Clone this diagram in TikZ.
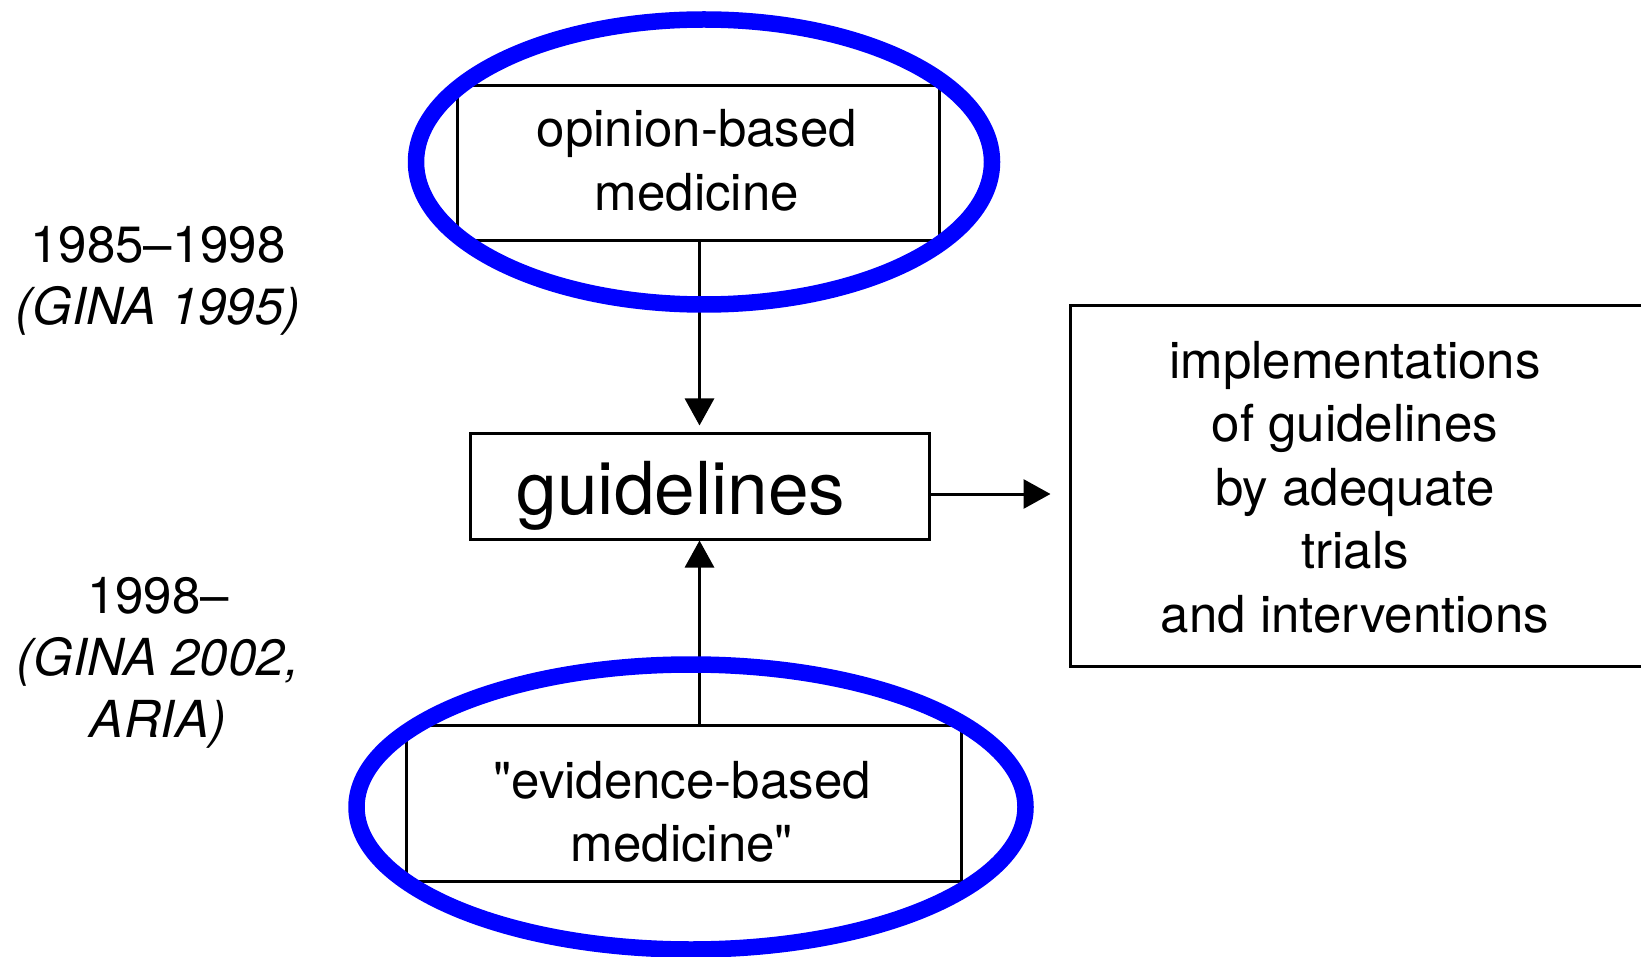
\documentclass[tikz,border=0pt]{standalone}
\usepackage{fontspec}
\setmainfont{TeX Gyre Heros}[Ligatures=TeXOff]
\usetikzlibrary{arrows.meta,shapes.geometric}
\begin{document}
\begin{tikzpicture}[x=1pt,y=-1pt,
  box/.style={draw, line width=3pt, inner sep=0pt},
  txt/.style={align=center, font=\fontsize{51}{63.5}\selectfont, inner sep=0pt},
  conn/.style={line width=3pt, -{Triangle[width=29pt,length=27pt]}},
  ring/.style={ellipse, draw=blue, line width=16.5pt, inner sep=0pt}]
\useasboundingbox (0,0) rectangle (1641,957);
\clip (0,0) rectangle (1641,957);
\fill[white] (0,0) rectangle (1641,957);

\node[box, minimum width=482pt, minimum height=155pt] (opbox) at (698,163.5) {};
\node[txt] (optext) at (697,160.5) {opinion-based\\medicine};

\node[box, minimum width=459pt, minimum height=106pt] (guide) at (699.5,486) {};
\node[txt, font=\fontsize{73}{80}\selectfont] (guidetext) at (681,496) {guidelines};

\node[box, minimum width=576pt, minimum height=360pt] (impl) at (1358,486) {};
\node[txt] (impltext) at (1355,487) {implementations\\of guidelines\\by adequate\\trials\\and interventions};

\node[box, minimum width=555pt, minimum height=156pt] (evbox) at (683.5,803) {};
\node[txt] (evtext) at (682,812) {"evidence-based\\medicine"};

\node[txt, font=\fontsize{51}{62}\selectfont] (era1) at (158,280.5) {1985–1998\\\textit{(GINA 1995)}};
\node[txt, font=\fontsize{51}{62}\selectfont] (era2) at (158,663) {1998–\\\textit{(GINA 2002,}\\\textit{ARIA)}};

\draw[conn, shorten >=6pt] (opbox.south -| guide.north) -- (guide.north);
\draw[conn] (evbox.north -| guide.south) -- (guide.south);
\draw[conn, shorten >=18pt] ([yshift=-8pt]guide.east) -- ([yshift=-8pt]guide.east -| impl.west);

\node[ring, minimum width=576pt, minimum height=285pt] (ring1) at (704,162) {};
\node[ring, minimum width=669pt, minimum height=285pt] (ring2) at (691,807) {};
\end{tikzpicture}
\end{document}
